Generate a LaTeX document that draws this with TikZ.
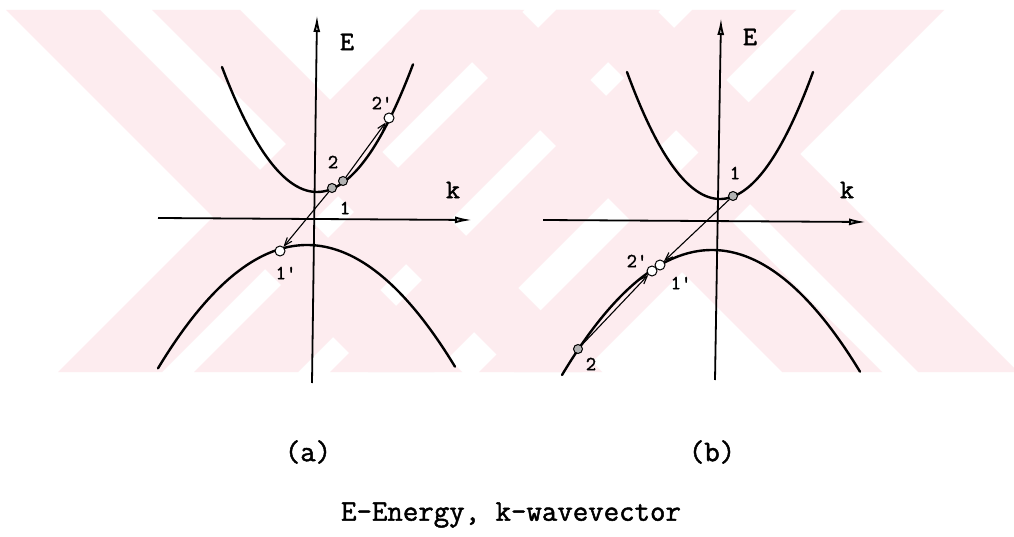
\documentclass[tikz,border=0pt]{standalone}
\usepackage{fontspec}
\newfontfamily\cour[BoldFont={Latin Modern Mono},BoldFeatures={FakeBold=1.6}]{Latin Modern Mono}
\usetikzlibrary{arrows.meta}
\definecolor{wm}{RGB}{253,236,239}
\begin{document}
\begin{tikzpicture}[x=1pt,y=-1pt,
 band/.style={line width=2.4pt, line cap=round},
 axisline/.style={line width=1.8pt, -{Latex[length=17pt,width=7pt,fill=gray!55]}},
 trans/.style={line width=1.1pt, -{Straight Barb[length=8pt,width=6pt]}},
 opencirc/.style={circle, draw, line width=1pt, fill=white, minimum size=10pt, inner sep=0pt},
 hatchcirc/.style={circle, draw, line width=1pt, fill=gray!60, minimum size=9pt, inner sep=0pt},
 lbl/.style={font=\cour\bfseries\fontsize{20}{20}\selectfont, inner sep=0pt},
 axlbl/.style={font=\cour\bfseries\fontsize{27}{27}\selectfont, inner sep=0pt},
 capt/.style={font=\cour\bfseries\fontsize{30}{30}\selectfont, inner sep=0pt}]
\useasboundingbox (0,0) rectangle (1014,537);
\fill[white] (0,0) rectangle (1014,537);
% watermark
\begin{scope}
\clip (0,10) rectangle (1014,372);
\foreach \a/\w in {6/94,152/88,420/100,556/100}
  \fill[wm] (\a,10) -- ++(\w,0) -- ++(362,362) -- ++(-\w,0) -- cycle;
\foreach \c/\w in {420/104,556/104,692/104,841/103}
  \fill[wm] (\c,10) -- ++(\w,0) -- ++(-362,362) -- ++(-\w,0) -- cycle;
\end{scope}
% ---------- panel (a)
\coordinate (aEb) at (312,383); \coordinate (aEt) at (317,15);
\coordinate (aKl) at (158,218); \coordinate (aKr) at (472,220);
\draw[axisline] (aEb) -- (aEt);
\draw[axisline] (aKl) -- (aKr);
\draw[band] plot[domain=222:413, samples=60, smooth] (\x,{192-125*((\x-317)/95)^2});
\draw[band] plot[domain=158:455, samples=60, smooth] (\x,{245+125*((\x-307)/150)^2});
\node[hatchcirc] (a1) at (332,188) {};
\node[hatchcirc] (a2) at (343,181) {};
\node[opencirc] (a2p) at (389,118) {};
\node[opencirc] (a1p) at (280,251) {};
\draw[trans] (a1) -- (a1p);
\draw[trans] (a2) -- (a2p);
\node[lbl] (la2) at (333,162) {2};
\node[lbl] (la1) at (345,208) {1};
\node[lbl] (la2p) at (382,103) {2'};
\node[lbl] (la1p) at (286,273) {1'};
\node[axlbl] (aE) at (347,42) {E};
\node[axlbl] (ak) at (453,190) {k};
% ---------- panel (b)
\coordinate (bEb) at (715,380); \coordinate (bEt) at (721,18);
\coordinate (bKl) at (543,220); \coordinate (bKr) at (866,222);
\draw[axisline] (bEb) -- (bEt);
\draw[axisline] (bKl) -- (bKr);
\draw[band] plot[domain=627:813, samples=60, smooth] (\x,{199-127*((\x-720)/93)^2});
\draw[band] plot[domain=562:860, samples=60, smooth] (\x,{250+125*((\x-712)/150)^2});
\node[hatchcirc] (b1) at (733,196) {};
\node[opencirc] (b1p) at (660,265) {};
\node[opencirc] (b2p) at (652,271) {};
\node[hatchcirc] (b2) at (578,349) {};
\draw[trans] (b1) -- (b1p);
\draw[trans] (b2) -- (b2p);
\node[lbl] (lb1) at (735,173) {1};
\node[lbl] (lb1p) at (681,283) {1'};
\node[lbl] (lb2p) at (637,261) {2'};
\node[lbl] (lb2) at (591,364) {2};
\node[axlbl] (bE) at (750,37) {E};
\node[axlbl] (bk) at (847,190) {k};
% ---------- captions
\node[capt] (ca) at (308,452) {(a)};
\node[capt] (cb) at (712,452) {(b)};
\node[capt] (cc) at (511,515) {E-Energy, k-wavevector};
\end{tikzpicture}
\end{document}
